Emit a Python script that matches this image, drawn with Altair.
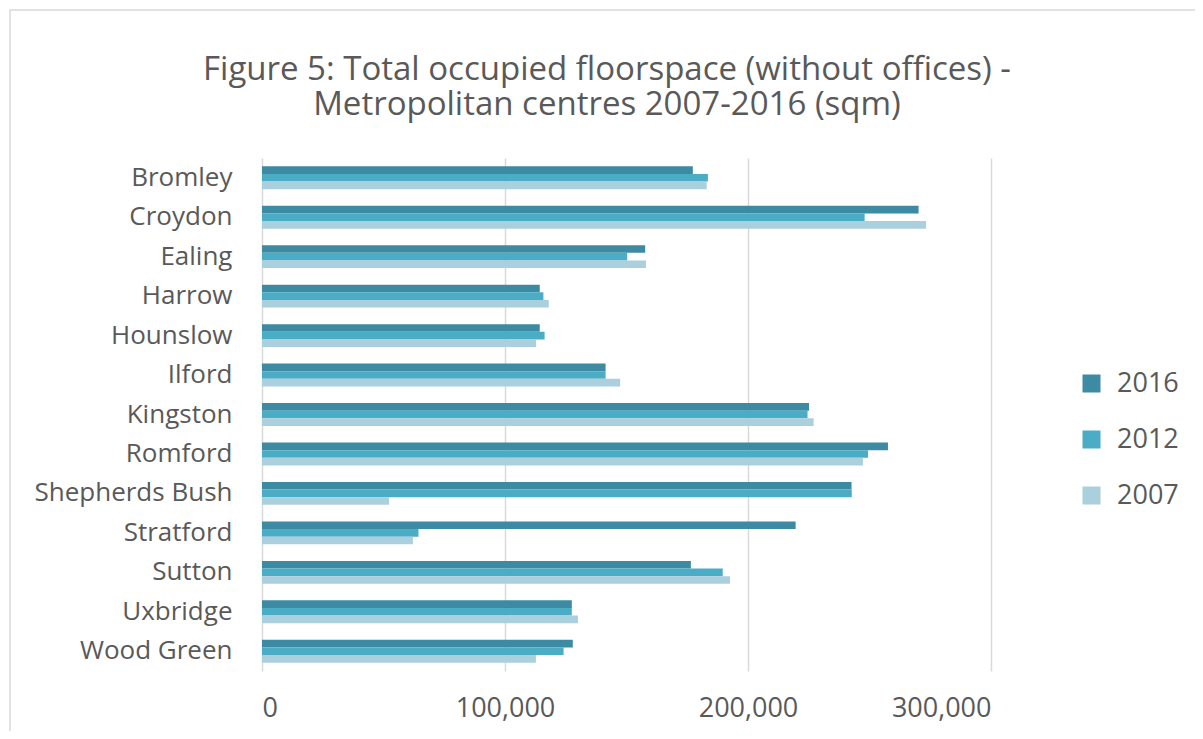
import altair as alt
import pandas as pd

centres = ["Bromley", "Croydon", "Ealing", "Harrow", "Hounslow", "Ilford", "Kingston",
           "Romford", "Shepherds Bush", "Stratford", "Sutton", "Uxbridge", "Wood Green"]
v2016 = [177300, 270200, 157700, 114300, 114300, 141400, 225100, 257600, 242600, 219600, 176500, 127500, 127900]
v2012 = [183500, 248000, 150300, 115800, 116300, 141400, 224500, 249400, 242700, 64400, 189600, 127500, 124100]
v2007 = [183000, 273300, 158000, 118000, 112800, 147400, 227000, 247300, 52300, 62100, 192600, 130000, 112700]
years = ["2016", "2012", "2007"]
colors = ["#3D8BA3", "#4BACC6", "#AACFDD"]
x_ticks = [0, 100000, 200000, 300000]
title_lines = ["Figure 5: Total occupied floorspace (without offices) -",
               "Metropolitan centres 2007-2016 (sqm)"]

rows = []
for i, c in enumerate(centres):
    for yr, vals in zip(years, [v2016, v2012, v2007]):
        rows.append({"centre": c, "year": yr, "value": vals[i]})
df = pd.DataFrame(rows)

FONT = "Open Sans"
GREY = "#595959"

border = alt.Chart(pd.DataFrame({"a": [0]})).mark_rect(
    filled=False, stroke="#D9D9D9", strokeWidth=1.5
).encode(
    x=alt.value(-252), x2=alt.value(980), y=alt.value(-148), y2=alt.value(620)
)

title1 = alt.Chart(pd.DataFrame({"t": [title_lines[0]]})).mark_text(
    font=FONT, fontSize=33, color=GREY, align="center", baseline="middle"
).encode(text="t:N", x=alt.value(345), y=alt.value(-88))
title2 = alt.Chart(pd.DataFrame({"t": [title_lines[1]]})).mark_text(
    font=FONT, fontSize=33, color=GREY, align="center", baseline="middle"
).encode(text="t:N", x=alt.value(345), y=alt.value(-53))

bars = alt.Chart(df).mark_bar().encode(
    x=alt.X("value:Q", scale=alt.Scale(domain=[0, 300000], nice=False),
            axis=alt.Axis(title=None, format=",.0f", values=x_ticks, domain=False, ticks=False,
                          grid=True, gridColor="#D9D9D9", gridWidth=1.5,
                          labelFont=FONT, labelFontSize=27, labelColor=GREY, labelPadding=24)),
    y=alt.Y("centre:N", sort=centres, scale=alt.Scale(paddingInner=0.42, paddingOuter=0.21),
            axis=alt.Axis(title=None, domain=False, ticks=False, labelFont=FONT, labelFontSize=26,
                          labelColor=GREY, labelPadding=30, labelLimit=400)),
    yOffset=alt.YOffset("year:N", sort=years),
    color=alt.Color("year:N", scale=alt.Scale(domain=years, range=colors),
                    legend=alt.Legend(title=None, orient="none", legendX=816, legendY=212,
                                      symbolType="square", symbolSize=324, symbolStrokeWidth=0,
                                      labelFont=FONT, labelFontSize=27, labelColor=GREY,
                                      labelOffset=12, rowPadding=28)),
)

chart = alt.layer(border, title1, title2, bars).properties(
    width=729, height=513,
    autosize=alt.AutoSizeParams(type="none"),
    padding={"left": 254, "top": 150, "right": 204, "bottom": 60},
).configure_view(stroke=None)

chart.save("out.html", embed_options={"renderer": "svg", "actions": False})
